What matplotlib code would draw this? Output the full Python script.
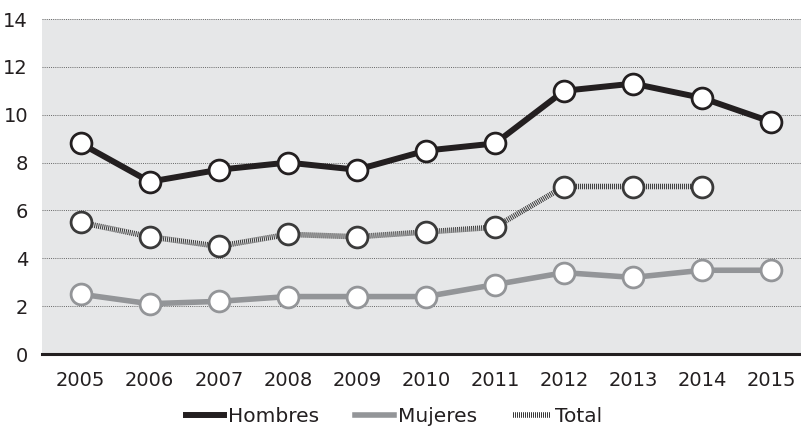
import numpy as np
import matplotlib.pyplot as plt
from matplotlib.lines import Line2D

# Data
years = [2005, 2006, 2007, 2008, 2009, 2010, 2011, 2012, 2013, 2014, 2015]
hombres = [8.8, 7.2, 7.7, 8.0, 7.7, 8.5, 8.8, 11.0, 11.3, 10.7, 9.7]
mujeres = [2.5, 2.1, 2.2, 2.4, 2.4, 2.4, 2.9, 3.4, 3.2, 3.5, 3.5]
total = [5.5, 4.9, 4.5, 5.0, 4.9, 5.1, 5.3, 7.0, 7.0, 7.0]
yticks = [0, 2, 4, 6, 8, 10, 12, 14]

c_h = "#231f20"
c_m = "#939598"
c_t = "#3a3a3a"
dash_t = (0, (0.18, 0.18))

plt.rcParams['font.family'] = ['DejaVu Sans']

fig = plt.figure(figsize=(8.01, 4.28), dpi=100)
ax = fig.add_axes([42/801, 1 - 354/428, 1 - 42/801, 335/428])
ax.set_facecolor("#e6e7e8")

ax.plot(years, hombres, color=c_h, lw=4.3, marker='o', ms=15,
        mfc='white', mec=c_h, mew=2.0, zorder=5)
ax.plot(years, mujeres, color=c_m, lw=4.0, marker='o', ms=15,
        mfc='white', mec=c_m, mew=2.0, zorder=4)
ax.plot(years[:len(total)], total, color=c_t, lw=4.0, ls=dash_t,
        marker='o', ms=15, mfc='white', mec=c_t, mew=2.0, zorder=4)

ax.set_xlim(2004.44, 2015.43)
ax.set_ylim(0, 14)
ax.set_xticks(years)
ax.set_yticks(yticks)
ax.tick_params(length=0, labelsize=14, colors="#231f20")
ax.tick_params(axis='x', pad=12)
ax.tick_params(axis='y', pad=10)
ax.yaxis.grid(True, color="#666666", ls=(0, (1, 1.2)), lw=0.7)
ax.set_axisbelow(True)
for s in ['left', 'right', 'top']:
    ax.spines[s].set_visible(False)
ax.spines['bottom'].set_color(c_h)
ax.spines['bottom'].set_linewidth(2.2)
ax.spines['bottom'].set_zorder(6)

handles = [Line2D([], [], color=c_h, lw=4.3),
           Line2D([], [], color=c_m, lw=4.0),
           Line2D([], [], color=c_t, lw=4.0, ls=dash_t)]
fig.legend(handles, ["Hombres", "Mujeres", "Total"], loc='center',
           bbox_to_anchor=(0.492, 1 - 417/428), ncol=3, frameon=False,
           fontsize=14.5, handlelength=1.9, handletextpad=0.2,
           columnspacing=1.8, labelcolor="#231f20")

fig.savefig("out.png", dpi=100)
